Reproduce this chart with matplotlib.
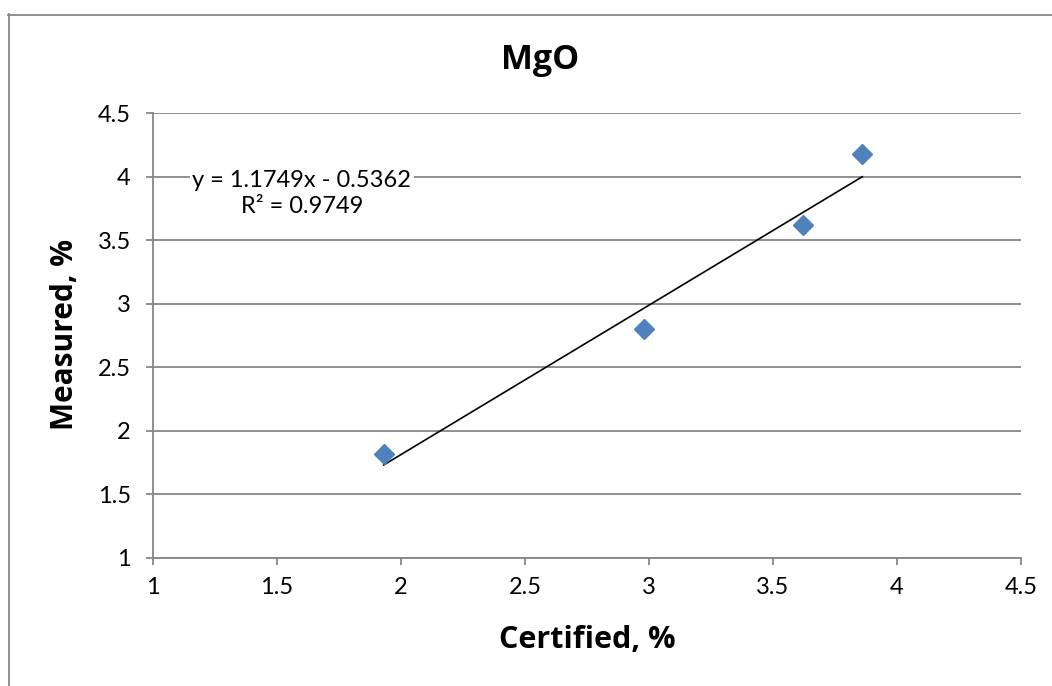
import numpy as np
import matplotlib.pyplot as plt
from matplotlib.lines import Line2D

plt.rcParams['font.family'] = ['Lato', 'DejaVu Sans']

# data
certified = [1.93, 2.98, 3.62, 3.86]
measured = [1.82, 2.80, 3.62, 4.18]
slope = 1.1749
intercept = -0.5362
r2 = 0.9749
ticks = [1, 1.5, 2, 2.5, 3, 3.5, 4, 4.5]
tick_labels = ['1', '1.5', '2', '2.5', '3', '3.5', '4', '4.5']

W, H = 1052, 686
fig = plt.figure(figsize=(W / 100, H / 100), dpi=100)
ax = fig.add_axes([153 / W, 1 - 558 / H, (1021 - 153) / W, (558 - 113) / H])

grey = '#868686'
ax.set_xlim(1, 4.5)
ax.set_ylim(1, 4.5)
ax.set_xticks(ticks)
ax.set_xticklabels(tick_labels)
ax.set_yticks(ticks)
ax.set_yticklabels(tick_labels)
ax.yaxis.grid(True, color=grey, linewidth=1.3)
ax.set_axisbelow(True)
for s in ['top', 'right']:
    ax.spines[s].set_visible(False)
for s in ['left', 'bottom']:
    ax.spines[s].set_color(grey)
    ax.spines[s].set_linewidth(1.3)
ax.tick_params(axis='both', direction='out', length=5, width=1.3, color=grey,
               labelsize=17, labelcolor='black')
ax.tick_params(axis='x', pad=9)
ax.tick_params(axis='y', pad=11)

# trend line
xs = np.array([min(certified), max(certified)])
ax.plot(xs, slope * xs + intercept, color='black', linewidth=1.2, zorder=3)

ax.plot(certified, measured, linestyle='none', marker='D', markersize=10.5,
        color='#4F81BD', markeredgecolor='#4F81BD', zorder=4)

ax.text(1.6, 3.865, 'y = %.4fx - %.4f\nR² = %.4f' % (slope, -intercept, r2),
        ha='center', va='center', fontsize=17, linespacing=1.3,
        bbox=dict(facecolor='white', edgecolor='none', pad=2), zorder=5)

bold = dict(family='Open Sans', fontweight='bold', ha='center', va='center')
fig.text(540 / W, 1 - 60 / H, 'MgO', fontsize=24.5, **bold)
fig.text(587 / W, 1 - 640 / H, 'Certified, %', fontsize=22, **bold)
fig.text(65 / W, 1 - 334 / H, 'Measured, %', fontsize=21.5, rotation=90, **bold)

# chart border (top and left visible)
fig.add_artist(Line2D([8 / W, 1], [1 - 14.5 / H, 1 - 14.5 / H],
                      color=grey, linewidth=1.3))
fig.add_artist(Line2D([8.5 / W, 8.5 / W], [0, 1 - 14 / H],
                      color=grey, linewidth=1.3))

fig.savefig('out.png', dpi=100)
